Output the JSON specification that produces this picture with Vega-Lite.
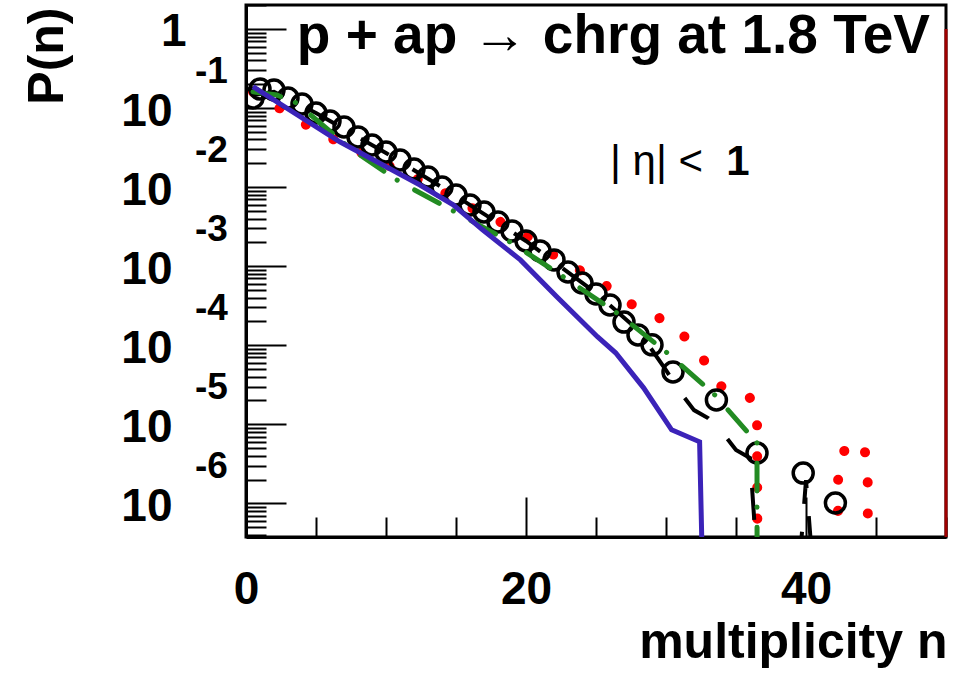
{
  "$schema": "https://vega.github.io/schema/vega-lite/v6.json",
  "width": 700,
  "height": 532,
  "autosize": {"type": "none"},
  "padding": {"left": 246, "top": 5, "right": 12, "bottom": 138},
  "background": "white",
  "config": {"font": "Liberation Sans", "view": {"stroke": "black", "strokeWidth": 3}},
  "title": {"text": "p + ap → chrg at 1.8 TeV", "anchor": "end", "frame": "group", "fontSize": 55, "fontWeight": "bold", "font": "Liberation Sans", "color": "black", "baseline": "alphabetic", "offset": 0, "dx": -16, "dy": 123},
  "datasets": {
    "circles": [
      {"n": 0.5, "p": 0.134}, {"n": 1, "p": 0.174}, {"n": 2, "p": 0.169}, {"n": 3, "p": 0.134},
      {"n": 4, "p": 0.1125}, {"n": 5, "p": 0.0865}, {"n": 6, "p": 0.0686}, {"n": 7, "p": 0.0575},
      {"n": 8, "p": 0.0431}, {"n": 9, "p": 0.0341}, {"n": 10, "p": 0.0278}, {"n": 11, "p": 0.022},
      {"n": 12, "p": 0.01694}, {"n": 13, "p": 0.01343}, {"n": 14, "p": 0.01002}, {"n": 15, "p": 0.00794},
      {"n": 16, "p": 0.00594}, {"n": 17, "p": 0.00484}, {"n": 18, "p": 0.00362}, {"n": 19, "p": 0.00279},
      {"n": 20, "p": 0.00208}, {"n": 21, "p": 0.00156}, {"n": 22, "p": 0.0012}, {"n": 23, "p": 0.000843},
      {"n": 24, "p": 0.000612}, {"n": 25, "p": 0.000445}, {"n": 26, "p": 0.000323}, {"n": 27, "p": 0.000196},
      {"n": 28, "p": 0.000135}, {"n": 29, "p": 0.000101}, {"n": 30.5, "p": 4.58e-5}, {"n": 33.6, "p": 2.03e-5},
      {"n": 36.5, "p": 4.33e-6}, {"n": 39.8, "p": 2.41e-6}, {"n": 42.1, "p": 1.01e-6}
    ],
    "black": [
      {"n": 0.5, "p": 0.146}, {"n": 2, "p": 0.16}, {"n": 5, "p": 0.0865}, {"n": 10, "p": 0.027},
      {"n": 15, "p": 0.00771}, {"n": 20, "p": 0.00208}, {"n": 25, "p": 0.000457}, {"n": 28, "p": 0.000156},
      {"n": 29, "p": 8.7e-5}, {"n": 30, "p": 4.85e-5}, {"n": 31, "p": 2.56e-5}, {"n": 32, "p": 1.51e-5},
      {"n": 33, "p": 1.2e-5}, {"n": 34, "p": 7.98e-6}, {"n": 35, "p": 4.72e-6}, {"n": 36, "p": 3.74e-6},
      {"n": 37, "p": 1e-8}, {"n": 39, "p": 1e-8}, {"n": 40, "p": 1.97e-6}, {"n": 41, "p": 1e-8}
    ],
    "green": [
      {"n": 0.5, "p": 0.16}, {"n": 2.2, "p": 0.146}, {"n": 3.6, "p": 0.116}, {"n": 7.4, "p": 0.0313},
      {"n": 11, "p": 0.0116}, {"n": 15, "p": 0.00478}, {"n": 19, "p": 0.00196}, {"n": 22.8, "p": 0.000708},
      {"n": 26.7, "p": 0.000241}, {"n": 30.1, "p": 7.96e-5}, {"n": 33.5, "p": 2.34e-5}, {"n": 36.5, "p": 5.79e-6},
      {"n": 36.51, "p": 1e-8}
    ],
    "red": [
      {"n": 0.5, "p": 0.16}, {"n": 5, "p": 0.0513}, {"n": 8, "p": 0.0286}, {"n": 11, "p": 0.016},
      {"n": 13.5, "p": 0.01}, {"n": 15.4, "p": 0.0063}, {"n": 17.6, "p": 0.00406}, {"n": 19.7, "p": 0.0027},
      {"n": 21.4, "p": 0.0016}, {"n": 23.4, "p": 0.000975}, {"n": 25.4, "p": 0.00063}, {"n": 27.2, "p": 0.000352},
      {"n": 29.2, "p": 0.000241}, {"n": 31.1, "p": 0.000143}, {"n": 32.6, "p": 6.89e-5}, {"n": 33.9, "p": 3.05e-5},
      {"n": 35.5, "p": 2.48e-5}, {"n": 36.5, "p": 1.86e-5}, {"n": 36.55, "p": 1e-8}, {"n": 42.25, "p": 1e-8},
      {"n": 42.3, "p": 3.74e-6}, {"n": 43.4, "p": 6.32e-6}, {"n": 44.4, "p": 4.08e-6}, {"n": 44.45, "p": 1e-8}
    ],
    "blue": [
      {"n": 0.5, "p": 0.186}, {"n": 6.7, "p": 0.0374}, {"n": 12.4, "p": 0.0107}, {"n": 14.8, "p": 0.00597},
      {"n": 16.9, "p": 0.00288}, {"n": 19.6, "p": 0.0012}, {"n": 22.2, "p": 0.000409}, {"n": 25.1, "p": 0.000128},
      {"n": 26.4, "p": 8.02e-5}, {"n": 28.4, "p": 2.89e-5}, {"n": 30.4, "p": 8.51e-6}, {"n": 32.4, "p": 6.0e-6},
      {"n": 32.75, "p": 1e-8}
    ],
    "exps": [
      {"v": 0.1, "e": "-1"}, {"v": 0.01, "e": "-2"}, {"v": 0.001, "e": "-3"},
      {"v": 0.0001, "e": "-4"}, {"v": 0.00001, "e": "-5"}, {"v": 0.000001, "e": "-6"}
    ]
  },
  "layer": [
    {
      "encoding": {
        "x": {
          "field": "n", "type": "quantitative",
          "scale": {"domain": [0, 50], "nice": false, "zero": false},
          "axis": {
            "values": [0, 5, 10, 15, 20, 25, 30, 35, 40, 45, 50],
            "labelExpr": "datum.value % 20 == 0 ? format(datum.value, 'd') : ''",
            "grid": false, "domainColor": "black", "domainWidth": 3,
            "tickColor": "black", "tickWidth": 2,
            "tickSize": {"condition": {"test": "datum.value % 20 == 0", "value": -40}, "value": -20},
            "labelFontSize": 46, "labelFontWeight": "bold", "labelColor": "black", "labelFont": "Liberation Sans",
            "labelPadding": 70, "labelFlush": false, "labelOverlap": false,
            "title": "multiplicity n", "titleFontSize": 50, "titleFontWeight": "bold", "titleColor": "black", "titleFont": "Liberation Sans",
            "titleAlign": "right", "titleBaseline": "alphabetic", "titleX": 701, "titleY": 120
          }
        },
        "y": {
          "field": "p", "type": "quantitative",
          "scale": {"type": "log", "domain": [3.75e-7, 2.01], "nice": false},
          "axis": {
            "values": [4e-7, 5e-7, 6e-7, 7e-7, 8e-7, 9e-7,
                       1e-6, 2e-6, 3e-6, 4e-6, 5e-6, 6e-6, 7e-6, 8e-6, 9e-6,
                       1e-5, 2e-5, 3e-5, 4e-5, 5e-5, 6e-5, 7e-5, 8e-5, 9e-5,
                       0.0001, 0.0002, 0.0003, 0.0004, 0.0005, 0.0006, 0.0007, 0.0008, 0.0009,
                       0.001, 0.002, 0.003, 0.004, 0.005, 0.006, 0.007, 0.008, 0.009,
                       0.01, 0.02, 0.03, 0.04, 0.05, 0.06, 0.07, 0.08, 0.09,
                       0.1, 0.2, 0.3, 0.4, 0.5, 0.6, 0.7, 0.8, 0.9, 1, 2],
            "labelExpr": "abs(log(datum.value)/LN10 - round(log(datum.value)/LN10)) < 0.001 ? (datum.value > 0.5 ? '1' : '10') : ''",
            "grid": false, "domainColor": "black", "domainWidth": 3,
            "tickColor": "black", "tickWidth": 2,
            "tickSize": {"condition": {"test": "abs(log(datum.value)/LN10 - round(log(datum.value)/LN10)) < 0.001", "value": -40}, "value": -20},
            "labelFontSize": 46, "labelFontWeight": "bold", "labelColor": "black", "labelFont": "Liberation Sans",
            "labelAlign": "right", "labelBaseline": "middle", "labelOffset": 3,
            "labelPadding": {"condition": {"test": "datum.value > 0.5", "value": 100}, "value": 114},
            "labelOverlap": false, "labelFlush": false, "labelBound": false,
            "title": "P(n)", "titleFontSize": 50, "titleFontWeight": "bold", "titleColor": "black", "titleFont": "Liberation Sans",
            "titleAngle": -90, "titleAlign": "right", "titleBaseline": "middle", "titleX": -199, "titleY": 2
          }
        }
      },
      "layer": [
        {
          "data": {"name": "red"},
          "mark": {"type": "line", "color": "#ff0000", "strokeWidth": 10, "strokeCap": "round", "strokeDash": [0.1, 31], "clip": true}
        },
        {
          "data": {"name": "circles"},
          "mark": {"type": "point", "shape": "circle", "filled": false, "stroke": "black", "strokeWidth": 3.5, "size": 400, "opacity": 1, "clip": true}
        },
        {
          "data": {"name": "black"},
          "mark": {"type": "line", "color": "black", "strokeWidth": 4, "strokeDash": [32, 28], "clip": true}
        },
        {
          "data": {"name": "green"},
          "mark": {"type": "line", "color": "#228b22", "strokeWidth": 5, "strokeCap": "round", "strokeDash": [28, 16, 0.1, 20], "clip": true}
        },
        {
          "data": {"name": "blue"},
          "mark": {"type": "line", "color": "#3b23b8", "strokeWidth": 5, "clip": true}
        }
      ]
    },
    {
      "data": {"values": [{}]},
      "mark": {"type": "rule", "color": "#a00000", "strokeWidth": 3},
      "encoding": {"x": {"datum": 50}, "y": {"datum": 1}, "y2": {"datum": 3.75e-7}}
    },
    {
      "data": {"name": "exps"},
      "mark": {"type": "text", "align": "right", "baseline": "middle", "dy": -36, "fontSize": 37, "fontWeight": "bold", "font": "Liberation Sans", "color": "black"},
      "encoding": {"x": {"datum": -1.3}, "y": {"field": "v", "type": "quantitative"}, "text": {"field": "e"}}
    },
    {
      "data": {"values": [{}]},
      "mark": {"type": "text", "align": "left", "baseline": "alphabetic", "fontSize": 42, "fontWeight": "normal", "font": "Liberation Sans", "color": "black", "text": "| η| <"},
      "encoding": {"x": {"datum": 26.0}, "y": {"datum": 0.0142}}
    },
    {
      "data": {"values": [{}]},
      "mark": {"type": "text", "align": "left", "baseline": "alphabetic", "fontSize": 42, "fontWeight": "bold", "font": "Liberation Sans", "color": "black", "text": "1"},
      "encoding": {"x": {"datum": 34.3}, "y": {"datum": 0.0142}}
    }
  ]
}
